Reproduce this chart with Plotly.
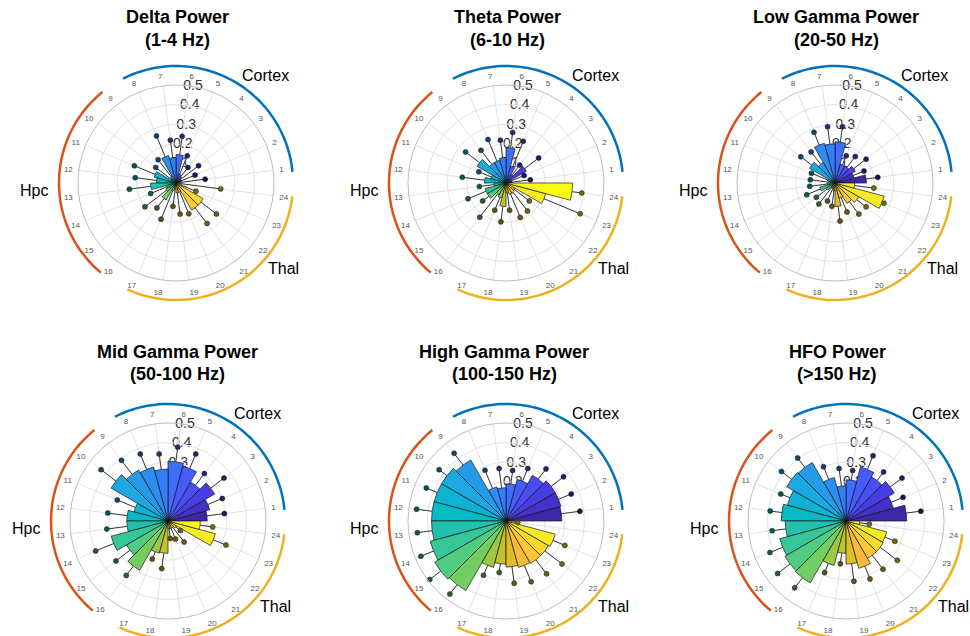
import numpy as np
import plotly.graph_objects as go

# ---------------- data ----------------
sector_labels = [str(s) for s in range(1, 25)]

panel_titles = ["Delta Power", "Theta Power", "Low Gamma Power",
                "Mid Gamma Power", "High Gamma Power", "HFO Power"]
panel_bands = ["(1-4 Hz)", "(6-10 Hz)", "(20-50 Hz)",
               "(50-100 Hz)", "(100-150 Hz)", "(>150 Hz)"]

delta_mean = [0.02, 0.03, 0.03, 0.04, 0.05, 0.145, 0.13, 0.145, 0.04, 0.03, 0.115, 0.10,
              0.13, 0.05, 0.06, 0.10, 0.04, 0.03, 0.05, 0.05, 0.16, 0.16, 0.03, 0.02]
delta_upper = [0.15, 0.105, 0.145, 0.10, 0.15, 0.24, 0.22, 0.26, 0.15, 0.13, 0.23, 0.21,
               0.24, 0.14, 0.20, 0.16, 0.20, 0.12, 0.16, 0.17, 0.26, 0.26, 0.11, 0.23]

theta_mean = [0.03, 0.03, 0.12, 0.05, 0.09, 0.18, 0.13, 0.12, 0.12, 0.17, 0.08, 0.11,
              0.06, 0.11, 0.11, 0.07, 0.08, 0.12, 0.05, 0.06, 0.06, 0.05, 0.21, 0.34]
theta_upper = [0.125, 0.10, 0.21, 0.115, 0.23, 0.26, 0.22, 0.24, 0.21, 0.26, 0.15, 0.225,
               0.137, 0.21, 0.15, 0.22, 0.15, 0.20, 0.14, 0.19, 0.18, 0.15, 0.41, 0.39]

lowgamma_mean = [0.16, 0.10, 0.12, 0.10, 0.10, 0.21, 0.20, 0.21, 0.12, 0.15, 0.04, 0.03,
                 0.04, 0.08, 0.05, 0.03, 0.03, 0.04, 0.12, 0.08, 0.12, 0.14, 0.26, 0.10]
lowgamma_upper = [0.22, 0.16, 0.20, 0.17, 0.15, 0.29, 0.29, 0.28, 0.20, 0.22, 0.13, 0.127,
                  0.13, 0.156, 0.12, 0.135, 0.10, 0.12, 0.196, 0.16, 0.20, 0.20, 0.27, 0.20]

midgamma_mean = [0.20, 0.22, 0.275, 0.23, 0.29, 0.305, 0.265, 0.285, 0.30, 0.335, 0.18, 0.21,
                 0.21, 0.30, 0.245, 0.29, 0.17, 0.165, 0.04, 0.04, 0.04, 0.05, 0.25, 0.165]
midgamma_upper = [0.29, 0.30, 0.36, 0.305, 0.37, 0.38, 0.345, 0.37, 0.39, 0.43, 0.28, 0.31,
                  0.315, 0.40, 0.335, 0.35, 0.21, 0.245, 0.09, 0.10, 0.135, 0.08, 0.32, 0.23]

highgamma_mean = [0.285, 0.29, 0.29, 0.27, 0.22, 0.19, 0.17, 0.18, 0.36, 0.38, 0.38, 0.38,
                  0.38, 0.40, 0.42, 0.41, 0.245, 0.22, 0.235, 0.245, 0.25, 0.25, 0.26, 0.03]
highgamma_upper = [0.38, 0.36, 0.37, 0.335, 0.29, 0.26, 0.27, 0.28, 0.435, 0.43, 0.44, 0.46,
                   0.456, 0.47, 0.49, 0.47, 0.30, 0.265, 0.32, 0.335, 0.34, 0.36, 0.325, 0.06]

hfo_mean = [0.31, 0.25, 0.285, 0.26, 0.285, 0.21, 0.18, 0.23, 0.345, 0.35, 0.31, 0.33,
            0.31, 0.35, 0.36, 0.365, 0.235, 0.165, 0.22, 0.25, 0.22, 0.22, 0.215, 0.07]
hfo_upper = [0.385, 0.315, 0.36, 0.315, 0.36, 0.26, 0.27, 0.30, 0.405, 0.415, 0.36, 0.39,
             0.38, 0.42, 0.44, 0.43, 0.285, 0.22, 0.31, 0.32, 0.31, 0.33, 0.27, 0.12]

panel_means = [delta_mean, theta_mean, lowgamma_mean, midgamma_mean, highgamma_mean, hfo_mean]
panel_uppers = [delta_upper, theta_upper, lowgamma_upper, midgamma_upper, highgamma_upper, hfo_upper]

radial_ticks = [0.1, 0.2, 0.3, 0.4, 0.5]
radial_tick_labels = ["0.1", "0.2", "0.3", "0.4", "0.5"]

region_names = ["Cortex", "Hpc", "Thal"]
region_colors = ["#0072BD", "#D95319", "#EDB120"]

# ---------------- style / layout ----------------
W, H = 970, 636
R_PX = 98
centers = [(176, 183), (506, 183), (835, 183), (168, 521), (506, 521), (846, 521)]
title_pos = [(177, 17, 40), (507, 17, 40), (836, 17, 40),
             (177, 352, 374), (504, 352, 374), (837, 352, 374)]
region_spans = [(5.5, 117), (129, 230), (245.5, 353.5)]   # degrees
arc_r_px = 117
region_label_pos = [(140, 50), (142, 183), (137, 321.5)]  # (radius px, degrees)
radial_label_angle = 80

PARULA_64 = np.array([
    [0.2422, 0.1504, 0.6603], [0.2504, 0.1650, 0.7076], [0.2578, 0.1818, 0.7511], [0.2647, 0.1978, 0.7952],
    [0.2706, 0.2147, 0.8364], [0.2751, 0.2342, 0.8710], [0.2783, 0.2559, 0.8991], [0.2803, 0.2782, 0.9221],
    [0.2813, 0.3006, 0.9414], [0.2810, 0.3228, 0.9579], [0.2795, 0.3447, 0.9717], [0.2760, 0.3667, 0.9829],
    [0.2699, 0.3892, 0.9906], [0.2602, 0.4123, 0.9952], [0.2440, 0.4358, 0.9988], [0.2206, 0.4603, 0.9973],
    [0.1963, 0.4847, 0.9892], [0.1834, 0.5074, 0.9798], [0.1786, 0.5289, 0.9682], [0.1764, 0.5499, 0.9520],
    [0.1687, 0.5703, 0.9359], [0.1540, 0.5902, 0.9218], [0.1460, 0.6091, 0.9079], [0.1380, 0.6276, 0.8973],
    [0.1248, 0.6459, 0.8883], [0.1113, 0.6635, 0.8763], [0.0952, 0.6798, 0.8598], [0.0689, 0.6948, 0.8394],
    [0.0297, 0.7082, 0.8163], [0.0036, 0.7203, 0.7917], [0.0067, 0.7312, 0.7660], [0.0433, 0.7411, 0.7394],
    [0.0964, 0.7500, 0.7120], [0.1408, 0.7584, 0.6842], [0.1717, 0.7670, 0.6554], [0.1938, 0.7758, 0.6251],
    [0.2161, 0.7843, 0.5923], [0.2470, 0.7918, 0.5567], [0.2906, 0.7973, 0.5188], [0.3406, 0.8008, 0.4789],
    [0.3909, 0.8029, 0.4354], [0.4456, 0.8024, 0.3909], [0.5044, 0.7993, 0.3480], [0.5616, 0.7942, 0.3045],
    [0.6174, 0.7876, 0.2612], [0.6720, 0.7793, 0.2227], [0.7242, 0.7698, 0.1910], [0.7738, 0.7598, 0.1646],
    [0.8203, 0.7498, 0.1535], [0.8634, 0.7406, 0.1596], [0.9035, 0.7330, 0.1774], [0.9393, 0.7288, 0.2100],
    [0.9728, 0.7298, 0.2394], [0.9956, 0.7434, 0.2371], [0.9970, 0.7659, 0.2199], [0.9952, 0.7893, 0.2028],
    [0.9892, 0.8136, 0.1885], [0.9786, 0.8386, 0.1766], [0.9676, 0.8639, 0.1643], [0.9610, 0.8890, 0.1537],
    [0.9597, 0.9135, 0.1423], [0.9628, 0.9373, 0.1265], [0.9691, 0.9606, 0.1064], [0.9769, 0.9839, 0.0805]])

n = len(sector_labels)
src = np.linspace(0, 1, 64)
dst = np.linspace(0, 1, n)
cmap = np.stack([np.interp(dst, src, PARULA_64[:, c]) for c in range(3)], axis=1)
bar_colors = ["rgb(%d,%d,%d)" % tuple((c * 255).round()) for c in cmap]
dot_colors = ["rgb(%d,%d,%d)" % tuple((c * 255 * 0.45).round()) for c in cmap]

# polar id pairs (under, main) ordered consistently
pairs = [(1, 10), (11, 12), (2, 3), (4, 5), (6, 7), (8, 9)]


def pid(i):
    return "polar" if i == 1 else "polar%d" % i


def to_paper(px, py):
    return px / W, 1 - py / H


fig = go.Figure()
layout_polars = {}
shapes = []
annotations = []
FONT = "Liberation Sans, Arial, Helvetica, sans-serif"

for k in range(6):
    cx, cy = centers[k]
    dom = dict(x=[(cx - R_PX) / W, (cx + R_PX) / W],
               y=[1 - (cy + R_PX) / H, 1 - (cy - R_PX) / H])
    under, main = pid(pairs[k][0]), pid(pairs[k][1])

    layout_polars[under] = dict(
        domain=dom, bgcolor="rgba(0,0,0,0)",
        radialaxis=dict(range=[0, 0.5], visible=False),
        angularaxis=dict(visible=False, rotation=0, direction="counterclockwise"))
    layout_polars[main] = dict(
        domain=dom, bgcolor="rgba(0,0,0,0)", bargap=0,
        radialaxis=dict(range=[0, 0.5], tickvals=radial_ticks, showticklabels=False,
                        ticks="", showline=False, gridcolor="#e2e2e2", gridwidth=1),
        angularaxis=dict(type="category", categoryarray=sector_labels, rotation=7.5,
                         direction="counterclockwise", showline=True, linecolor="#bdbdbd",
                         linewidth=1, gridcolor="#e2e2e2",
                         ticks="outside", ticklen=4, tickcolor="rgba(0,0,0,0)",
                         tickfont=dict(size=8, color="#555555", family=FONT)))

    # radial tick labels (beneath the bars)
    fig.add_trace(go.Scatterpolar(
        subplot=under, r=radial_ticks, theta=[radial_label_angle] * len(radial_ticks),
        mode="text", text=radial_tick_labels, cliponaxis=False,
        textfont=dict(size=14, color="#333333", family=FONT), hoverinfo="skip"))

    # region arcs (decorations) and names
    for j, (a0, a1) in enumerate(region_spans):
        th = np.radians(np.linspace(a0, a1, 60))
        pts = [to_paper(cx + arc_r_px * np.cos(t), cy - arc_r_px * np.sin(t)) for t in th]
        path = "M " + " L ".join("%.5f,%.5f" % p for p in pts)
        shapes.append(dict(type="path", path=path, xref="paper", yref="paper",
                           line=dict(color=region_colors[j], width=2.5)))
        rr, aa = region_label_pos[j]
        lx, ly = to_paper(cx + rr * np.cos(np.radians(aa)), cy - rr * np.sin(np.radians(aa)))
        annotations.append(dict(x=lx, y=ly, xref="paper", yref="paper", text=region_names[j],
                                showarrow=False, xanchor="center", yanchor="middle",
                                font=dict(size=16, color="black", family=FONT)))

    means = panel_means[k]
    uppers = panel_uppers[k]
    fig.add_trace(go.Barpolar(
        subplot=main, r=means, theta=sector_labels,
        marker=dict(color=bar_colors, line=dict(color="rgba(20,20,20,0.85)", width=0.8)),
        hoverinfo="skip"))
    er, et = [], []
    for s, m, u in zip(sector_labels, means, uppers):
        er += [m, u, None]
        et += [s, s, None]
    fig.add_trace(go.Scatterpolar(
        subplot=main, r=er, theta=et, mode="lines",
        line=dict(color="#3a3a3a", width=1), hoverinfo="skip"))
    fig.add_trace(go.Scatterpolar(
        subplot=main, r=uppers, theta=sector_labels, mode="markers",
        marker=dict(size=5, color=dot_colors, line=dict(color="#222222", width=0.6)),
        hoverinfo="skip"))

for k in range(6):
    x, y1, y2 = title_pos[k]
    annotations.append(dict(x=x / W, y=1 - y1 / H, xref="paper", yref="paper",
                            text="<b>%s</b>" % panel_titles[k], showarrow=False,
                            xanchor="center", yanchor="middle",
                            font=dict(size=18, color="black", family=FONT)))
    annotations.append(dict(x=x / W, y=1 - y2 / H, xref="paper", yref="paper",
                            text="<b>%s</b>" % panel_bands[k], showarrow=False,
                            xanchor="center", yanchor="middle",
                            font=dict(size=18, color="black", family=FONT)))

fig.update_layout(width=W, height=H, margin=dict(l=0, r=0, t=0, b=0),
                  paper_bgcolor="white", plot_bgcolor="white", showlegend=False,
                  font=dict(family=FONT), annotations=annotations, shapes=shapes,
                  **layout_polars)

fig.write_html("out.html", config={"displayModeBar": False},
               post_script="document.body.style.margin='0';document.body.style.overflow='hidden';")
